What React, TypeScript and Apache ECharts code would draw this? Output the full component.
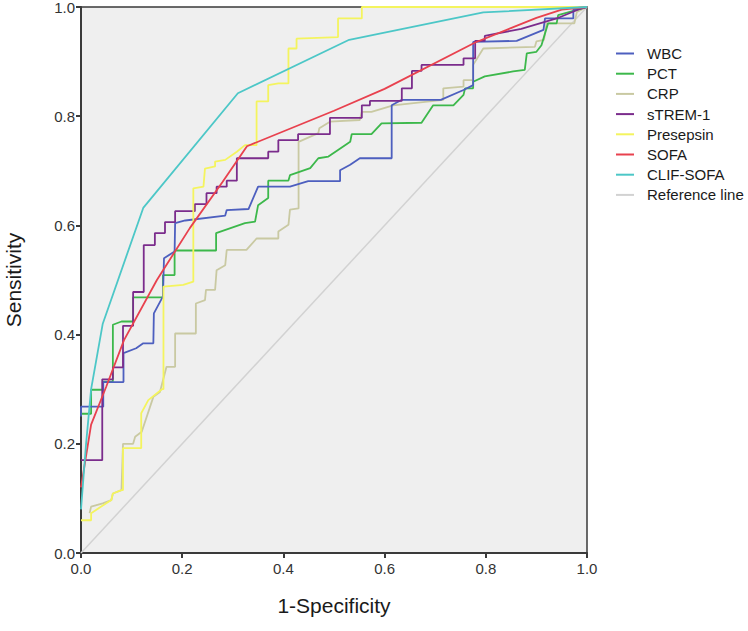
import React, { useEffect, useRef } from "react";
import * as echarts from "echarts";

const xTicks = ["0.0", "0.2", "0.4", "0.6", "0.8", "1.0"];
const seriesNames = ["WBC", "PCT", "CRP", "sTREM-1", "Presepsin", "SOFA", "CLIF-SOFA", "Reference line"];
const seriesColors = ["#4d5fbf", "#3cb84b", "#c9c9a2", "#7b2c8c", "#f4f45e", "#e8414e", "#4cc7c7", "#d2d2d2"];

const wbc: number[][] = [
  [0, 0.25], [0, 0.268], [0.044, 0.268], [0.044, 0.313], [0.084, 0.313], [0.084, 0.366], [0.109, 0.375],
  [0.123, 0.384], [0.143, 0.384], [0.144, 0.439], [0.162, 0.47], [0.164, 0.54], [0.185, 0.552], [0.186, 0.604],
  [0.206, 0.609], [0.285, 0.618], [0.288, 0.628], [0.331, 0.63], [0.35, 0.671], [0.413, 0.671], [0.449, 0.681],
  [0.512, 0.681], [0.512, 0.701], [0.532, 0.711], [0.551, 0.723], [0.614, 0.723], [0.614, 0.82], [0.634, 0.83],
  [0.711, 0.83], [0.756, 0.848], [0.775, 0.857], [0.775, 0.936], [0.861, 0.938], [0.914, 0.958], [0.917, 0.979],
  [0.973, 0.979], [0.973, 0.995], [1, 1],
];

const pct: number[][] = [
  [0, 0.255], [0.02, 0.255], [0.02, 0.299], [0.043, 0.299], [0.043, 0.314], [0.063, 0.314], [0.063, 0.418],
  [0.08, 0.424], [0.103, 0.424], [0.103, 0.468], [0.162, 0.468], [0.162, 0.509], [0.185, 0.509], [0.185, 0.554],
  [0.267, 0.554], [0.267, 0.586], [0.324, 0.604], [0.344, 0.607], [0.35, 0.637], [0.37, 0.65], [0.37, 0.682],
  [0.41, 0.682], [0.413, 0.692], [0.453, 0.705], [0.469, 0.723], [0.489, 0.726], [0.508, 0.738], [0.532, 0.753],
  [0.535, 0.767], [0.574, 0.767], [0.594, 0.787], [0.673, 0.788], [0.696, 0.82], [0.736, 0.82], [0.756, 0.839],
  [0.759, 0.851], [0.775, 0.851], [0.775, 0.863], [0.798, 0.873], [0.854, 0.882], [0.877, 0.885], [0.881, 0.915],
  [0.9, 0.918], [0.91, 0.93], [0.923, 0.97], [0.94, 0.97], [0.943, 0.985], [1, 1],
];

const crp: number[][] = [
  [0.017, 0.073], [0.02, 0.085], [0.043, 0.091], [0.06, 0.097], [0.063, 0.109], [0.08, 0.115], [0.083, 0.2],
  [0.103, 0.2], [0.107, 0.213], [0.12, 0.222], [0.143, 0.286], [0.156, 0.295], [0.169, 0.341], [0.186, 0.341],
  [0.186, 0.402], [0.227, 0.402], [0.227, 0.457], [0.245, 0.463], [0.247, 0.482], [0.265, 0.482], [0.268, 0.518],
  [0.285, 0.527], [0.288, 0.555], [0.327, 0.555], [0.347, 0.576], [0.39, 0.576], [0.39, 0.589], [0.41, 0.601],
  [0.413, 0.629], [0.43, 0.631], [0.43, 0.753], [0.469, 0.769], [0.471, 0.778], [0.492, 0.79], [0.551, 0.793],
  [0.555, 0.808], [0.574, 0.808], [0.617, 0.82], [0.716, 0.83], [0.716, 0.851], [0.756, 0.854], [0.756, 0.866],
  [0.775, 0.866], [0.775, 0.894], [0.795, 0.924], [0.897, 0.927], [0.9, 0.937], [0.915, 0.94], [0.92, 0.97],
  [0.975, 0.97], [0.98, 0.991], [1, 1],
];

const strem1: number[][] = [
  [0, 0.17], [0.042, 0.17], [0.042, 0.318], [0.063, 0.318], [0.063, 0.34], [0.083, 0.34], [0.083, 0.416],
  [0.103, 0.416], [0.103, 0.478], [0.124, 0.478], [0.124, 0.564], [0.146, 0.564], [0.146, 0.586], [0.166, 0.586],
  [0.166, 0.606], [0.186, 0.606], [0.186, 0.626], [0.225, 0.626], [0.225, 0.639], [0.248, 0.639], [0.248, 0.659],
  [0.268, 0.659], [0.268, 0.671], [0.288, 0.671], [0.288, 0.682], [0.308, 0.682], [0.308, 0.723], [0.37, 0.723],
  [0.37, 0.735], [0.39, 0.735], [0.39, 0.756], [0.429, 0.756], [0.429, 0.767], [0.492, 0.767], [0.492, 0.797],
  [0.555, 0.797], [0.555, 0.82], [0.571, 0.82], [0.571, 0.828], [0.634, 0.828], [0.634, 0.851], [0.654, 0.851],
  [0.654, 0.883], [0.673, 0.883], [0.673, 0.894], [0.756, 0.894], [0.756, 0.906], [0.779, 0.906], [0.779, 0.938],
  [0.798, 0.938], [0.798, 0.947], [0.87, 0.96], [0.94, 0.979], [0.982, 0.995], [1, 1],
];

const presepsin: number[][] = [
  [0, 0.06], [0.02, 0.06], [0.02, 0.073], [0.04, 0.085], [0.06, 0.097], [0.063, 0.109], [0.08, 0.115],
  [0.083, 0.115], [0.083, 0.192], [0.119, 0.192], [0.119, 0.256], [0.133, 0.28], [0.16, 0.3], [0.163, 0.3],
  [0.163, 0.488], [0.202, 0.491], [0.222, 0.497], [0.222, 0.668], [0.242, 0.671], [0.245, 0.704], [0.265, 0.708],
  [0.265, 0.717], [0.285, 0.72], [0.308, 0.735], [0.324, 0.747], [0.347, 0.747], [0.347, 0.827], [0.37, 0.827],
  [0.37, 0.857], [0.39, 0.86], [0.41, 0.86], [0.41, 0.924], [0.426, 0.924], [0.426, 0.942], [0.508, 0.945],
  [0.508, 0.979], [0.555, 0.979], [0.555, 1], [1, 1],
];

const sofa: number[][] = [
  [0, 0.12], [0.02, 0.235], [0.05, 0.305], [0.085, 0.39], [0.15, 0.5], [0.215, 0.595], [0.28, 0.68],
  [0.328, 0.745], [0.5, 0.81], [0.6, 0.85], [0.779, 0.935], [0.9, 0.98], [0.95, 0.995], [1, 1],
];

const clifSofa: number[][] = [
  [0, 0.08], [0.01, 0.2], [0.02, 0.3], [0.043, 0.42], [0.123, 0.632], [0.31, 0.842], [0.53, 0.94],
  [0.795, 0.99], [1, 1],
];

const referenceLine: number[][] = [
  [0, 0], [1, 1],
];

const seriesData = [wbc, pct, crp, strem1, presepsin, sofa, clifSofa, referenceLine];

export default function App() {
  const ref = useRef<HTMLDivElement>(null);
  useEffect(() => {
    if (!ref.current) return;
    const chart = echarts.init(ref.current, null, { renderer: "svg" });
    const font = "'Liberation Sans', Arial, sans-serif";
    const order = [7, 2, 1, 0, 3, 4, 5, 6];
    chart.setOption({
      animation: false,
      backgroundColor: "#ffffff",
      grid: {
        left: 81,
        right: 161,
        top: 7,
        bottom: 78,
        containLabel: false,
        outerBoundsMode: "none",
        show: true,
        backgroundColor: "#efefef",
        borderColor: "#3a3a3a",
        borderWidth: 1.5,
      },
      legend: {
        orient: "vertical",
        left: 611,
        top: 41,
        icon: "rect",
        itemWidth: 18,
        itemHeight: 2,
        itemGap: 5.2,
        data: seriesNames,
        textStyle: {
          fontFamily: font,
          fontSize: 15,
          lineHeight: 14,
          color: "#1a1a1a",
          padding: [0, 0, 0, 8],
        },
      },
      xAxis: {
        type: "value",
        min: 0,
        max: 1,
        interval: 0.2,
        name: "1-Specificity",
        nameLocation: "middle",
        nameGap: 42,
        nameTextStyle: { fontFamily: font, fontSize: 21, color: "#1a1a1a" },
        axisLine: { show: true, onZero: false, lineStyle: { color: "#3a3a3a", width: 2 } },
        axisTick: { show: true, length: 5, lineStyle: { color: "#3a3a3a", width: 2 } },
        axisLabel: {
          fontFamily: font,
          fontSize: 15,
          color: "#333",
          margin: 8,
          formatter: (v: number) => xTicks[Math.round(v / 0.2)] ?? v.toFixed(1),
        },
        splitLine: { show: false },
      },
      yAxis: {
        type: "value",
        min: 0,
        max: 1,
        interval: 0.2,
        name: "Sensitivity",
        nameLocation: "middle",
        nameGap: 57,
        nameTextStyle: { fontFamily: font, fontSize: 21, color: "#1a1a1a" },
        axisLine: { show: true, onZero: false, lineStyle: { color: "#3a3a3a", width: 2 } },
        axisTick: { show: true, length: 5, lineStyle: { color: "#3a3a3a", width: 2 } },
        axisLabel: {
          fontFamily: font,
          fontSize: 15,
          color: "#333",
          margin: 6,
          formatter: (v: number) => xTicks[Math.round(v / 0.2)] ?? v.toFixed(1),
        },
        splitLine: { show: false },
      },
      series: order.map((i) => ({
        name: seriesNames[i],
        type: "line",
        data: seriesData[i],
        showSymbol: false,
        symbol: "none",
        clip: true,
        color: seriesColors[i],
        lineStyle: { color: seriesColors[i], width: i === 7 ? 1.5 : 1.8 },
        z: 2 + order.indexOf(i),
      })),
    });
    return () => chart.dispose();
  }, []);
  return (
    <div
      ref={ref}
      style={{ position: "fixed", left: 0, top: 0, width: 748, height: 631 }}
    />
  );
}
